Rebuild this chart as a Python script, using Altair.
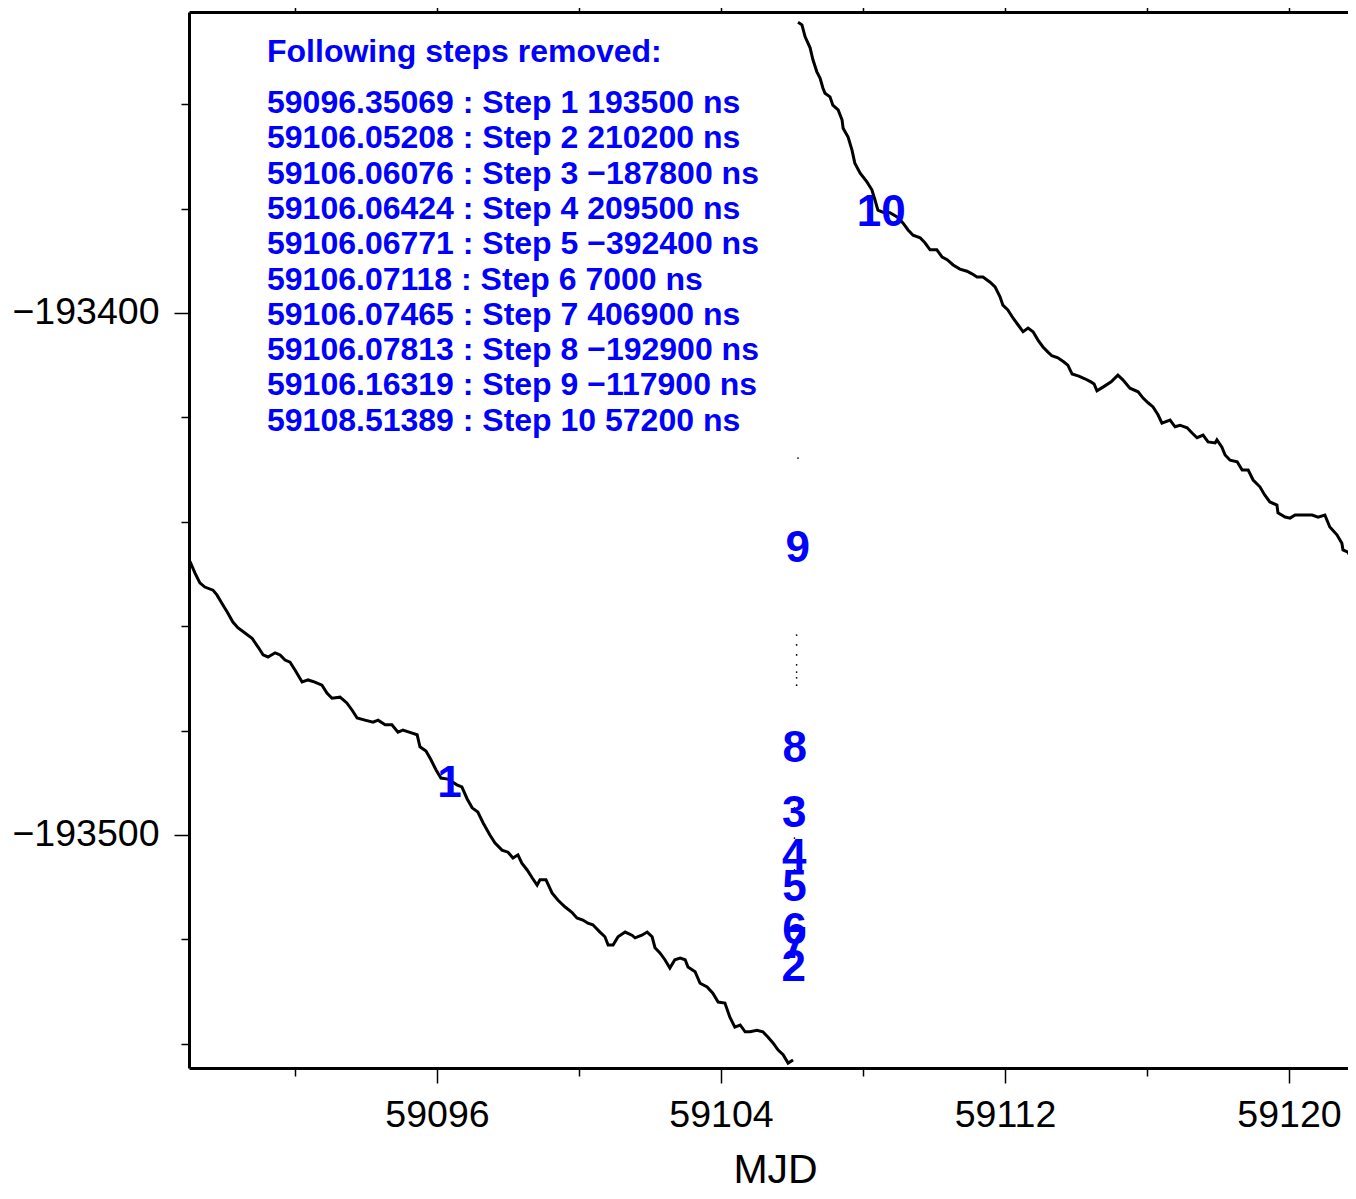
import altair as alt
import pandas as pd

# ---- data ----
seg1_mjd = [59089.04, 59089.18, 59089.32, 59089.46, 59089.69, 59089.80, 59089.94, 59090.09, 59090.25, 59090.39,
            59090.59, 59090.79, 59090.96, 59091.10, 59091.24, 59091.44, 59091.58, 59091.72, 59091.86, 59092.00,
            59092.20, 59092.37, 59092.56, 59092.76, 59092.90, 59093.04, 59093.27, 59093.46, 59093.61, 59093.75,
            59093.97, 59094.20, 59094.34, 59094.54, 59094.73, 59094.90, 59095.04, 59095.30, 59095.44, 59095.52,
            59095.69, 59095.83, 59095.97, 59096.11, 59096.31, 59096.56, 59096.70, 59096.85, 59096.99, 59097.15,
            59097.30, 59097.49, 59097.63, 59097.83, 59098.00, 59098.14, 59098.28, 59098.39, 59098.54, 59098.68,
            59098.82, 59098.90, 59099.07, 59099.24, 59099.41, 59099.61, 59099.80, 59099.94, 59100.11, 59100.25,
            59100.39, 59100.59, 59100.73, 59100.82, 59100.96, 59101.10, 59101.30, 59101.49, 59101.58, 59101.77,
            59101.92, 59102.06, 59102.14, 59102.28, 59102.42, 59102.56, 59102.70, 59102.85, 59102.99, 59103.07,
            59103.27, 59103.41, 59103.61, 59103.77, 59103.92, 59104.11, 59104.25, 59104.39, 59104.54, 59104.68,
            59104.82, 59105.01, 59105.18, 59105.32, 59105.46, 59105.61, 59105.75, 59105.89, 59106.03]
seg1_val = [-193447.6, -193449.8, -193451.7, -193452.5, -193453.1, -193454.0, -193455.6, -193457.3, -193459.2, -193460.3,
            -193461.3, -193462.3, -193464.0, -193465.5, -193465.9, -193465.1, -193465.5, -193466.5, -193466.9, -193468.4,
            -193470.7, -193470.3, -193470.7, -193471.3, -193472.8, -193473.8, -193473.6, -193474.7, -193476.1, -193477.6,
            -193478.0, -193478.4, -193478.0, -193478.9, -193478.9, -193480.3, -193479.9, -193480.5, -193480.8, -193483.1,
            -193483.9, -193485.6, -193487.5, -193489.1, -193489.3, -193490.4, -193490.8, -193493.1, -193494.8, -193495.6,
            -193497.7, -193500.0, -193501.5, -193502.9, -193503.3, -193504.4, -193503.8, -193505.4, -193506.7, -193508.2,
            -193509.6, -193508.6, -193508.6, -193511.1, -193512.5, -193513.8, -193514.8, -193515.9, -193516.3, -193516.9,
            -193517.2, -193518.6, -193519.5, -193521.1, -193521.1, -193519.5, -193518.6, -193519.2, -193519.7, -193519.2,
            -193518.6, -193519.5, -193521.6, -193522.6, -193523.9, -193525.5, -193523.9, -193523.6, -193523.9, -193525.3,
            -193526.2, -193528.4, -193529.1, -193530.3, -193532.0, -193532.2, -193534.9, -193536.8, -193536.4, -193537.7,
            -193537.7, -193537.4, -193537.7, -193538.7, -193539.8, -193541.2, -193542.1, -193543.7, -193543.1]

seg2_mjd = [59106.17, 59106.28, 59106.37, 59106.51, 59106.59, 59106.70, 59106.79, 59106.87, 59106.93, 59107.07,
            59107.15, 59107.30, 59107.41, 59107.44, 59107.58, 59107.69, 59107.77, 59107.92, 59108.11, 59108.25,
            59108.34, 59108.42, 59108.56, 59108.76, 59108.96, 59109.13, 59109.27, 59109.41, 59109.61, 59109.75,
            59109.89, 59110.08, 59110.23, 59110.37, 59110.54, 59110.73, 59110.93, 59111.07, 59111.21, 59111.38,
            59111.58, 59111.72, 59111.86, 59111.94, 59112.08, 59112.23, 59112.37, 59112.51, 59112.65, 59112.79,
            59112.93, 59113.07, 59113.21, 59113.32, 59113.49, 59113.66, 59113.77, 59113.89, 59114.08, 59114.25,
            59114.42, 59114.51, 59114.59, 59114.76, 59114.99, 59115.18, 59115.32, 59115.52, 59115.75, 59115.89,
            59116.03, 59116.17, 59116.31, 59116.42, 59116.65, 59116.79, 59116.93, 59117.13, 59117.27, 59117.41,
            59117.58, 59117.72, 59117.92, 59117.97, 59118.11, 59118.20, 59118.34, 59118.54, 59118.68, 59118.85,
            59118.99, 59119.18, 59119.32, 59119.46, 59119.66, 59119.69, 59119.89, 59120.03, 59120.17, 59120.39,
            59120.65, 59120.82, 59121.01, 59121.15, 59121.35, 59121.49, 59121.52, 59121.66, 59121.77, 59121.88]
seg2_val = [-193344.3, -193344.8, -193347.1, -193349.2, -193351.5, -193353.8, -193355.0, -193356.9, -193357.9, -193358.6,
            -193360.2, -193361.1, -193363.0, -193364.6, -193366.3, -193368.8, -193371.3, -193373.2, -193374.9, -193376.4,
            -193378.4, -193380.3, -193380.7, -193380.8, -193381.6, -193382.8, -193384.1, -193385.1, -193385.6, -193386.6,
            -193387.9, -193387.9, -193389.3, -193389.8, -193390.8, -193391.6, -193392.0, -193392.5, -193393.1, -193393.1,
            -193394.1, -193395.0, -193396.9, -193398.5, -193399.4, -193401.0, -193402.3, -193403.6, -193402.9, -193403.6,
            -193405.2, -193406.5, -193407.5, -193408.2, -193408.6, -193409.4, -193410.0, -193411.7, -193412.1, -193412.6,
            -193413.2, -193413.6, -193414.9, -193414.2, -193413.2, -193411.9, -193412.8, -193414.4, -193415.1, -193416.3,
            -193417.2, -193418.0, -193419.5, -193421.1, -193420.5, -193421.8, -193421.5, -193422.0, -193423.0, -193423.9,
            -193423.4, -193424.7, -193424.9, -193424.3, -193425.7, -193427.2, -193428.2, -193428.5, -193430.1, -193430.1,
            -193432.0, -193433.3, -193434.9, -193436.2, -193436.8, -193438.3, -193439.1, -193439.3, -193438.7, -193438.7,
            -193438.7, -193439.1, -193438.7, -193441.0, -193442.5, -193444.1, -193445.4, -193445.8, -193447.3, -193446.4]

# isolated points between the steps
dot_mjd = [59106.17, 59106.13, 59106.13, 59106.13, 59106.13, 59106.13, 59106.13, 59106.13, 59106.07, 59106.07, 59106.07]
dot_val = [-193427.8, -193461.7, -193463.6, -193465.5, -193467.4, -193468.8, -193469.9, -193471.3,
           -193494.8, -193500.6, -193506.7]

step_num = [1, 2, 3, 4, 5, 6, 7, 8, 9, 10]
step_mjd = [59096.35069, 59106.05208, 59106.06076, 59106.06424, 59106.06771,
            59106.07118, 59106.07465, 59106.07813, 59106.16319, 59108.51389]
step_ns = [193500, 210200, -187800, 209500, -392400, 7000, 406900, -192900, -117900, 57200]
step_label_val = [-193490.2, -193525.5, -193496.0, -193504.2, -193510.2,
                  -193518.4, -193521.1, -193483.5, -193445.2, -193380.8]

x_major = [59096, 59104, 59112, 59120]
x_minor = [59092, 59100, 59108, 59116]
y_major = [-193500, -193400]
y_minor = [-193540, -193520, -193480, -193460, -193440, -193420, -193380, -193360]
X_DOMAIN = [59089.014, 59121.662]
Y_DOMAIN = [-193544.64, -193342.34]

FONT = "Liberation Sans"
BLUE = "#0000ff"

df1 = pd.DataFrame({"mjd": seg1_mjd, "val": seg1_val})
df2 = pd.DataFrame({"mjd": seg2_mjd, "val": seg2_val})
dfd = pd.DataFrame({"mjd": dot_mjd, "val": dot_val})
dfs = pd.DataFrame({"mjd": step_mjd, "val": step_label_val, "label": [str(n) for n in step_num]})

lines = [f"{m:.5f} : Step {n} {str(s).replace('-', chr(0x2212))} ns"
         for m, n, s in zip(step_mjd, step_num, step_ns)]

xs = alt.Scale(domain=X_DOMAIN, nice=False, zero=False)
ys = alt.Scale(domain=Y_DOMAIN, nice=False, zero=False)

common_tick = dict(tickColor="black", tickWidth=1.5, grid=False)

ax_x_bottom_major = alt.Axis(orient="bottom", values=x_major, tickSize=15, domain=True, domainWidth=3,
                             domainColor="black", labelFontSize=37.5, labelFont=FONT, labelColor="black",
                             labelPadding=13, labelFlush=False, labelOverlap=False, format="d",
                             title="MJD", titleFont=FONT, titleFontSize=41, titleFontWeight="normal",
                             titleColor="black", titleX=586, titleAlign="center",
                             titleY=114, titleBaseline="alphabetic", **common_tick)
ax_x_bottom_minor = alt.Axis(orient="bottom", values=x_minor, tickSize=8, domain=False, labels=False,
                             title=None, **common_tick)
ax_x_top_major = alt.Axis(orient="top", values=x_major, tickSize=15, domain=True, domainWidth=3,
                          domainColor="black", labels=False, title=None, **common_tick)
ax_x_top_minor = alt.Axis(orient="top", values=x_minor, tickSize=8, domain=False, labels=False,
                          title=None, **common_tick)
ax_y_left_major = alt.Axis(orient="left", values=y_major, tickSize=15, domain=True, domainWidth=3,
                           domainColor="black", labelFontSize=37.5, labelFont=FONT, labelColor="black",
                           labelPadding=15, labelFlush=False, labelOverlap=False, format="d",
                           title=None, **common_tick)
ax_y_left_minor = alt.Axis(orient="left", values=y_minor, tickSize=8, domain=False, labels=False,
                           title=None, **common_tick)

step_labels = alt.Chart(dfs).mark_text(font=FONT, fontWeight="bold", fontSize=44, color=BLUE,
                                        align="center", baseline="middle").encode(
    x=alt.X("mjd:Q", scale=xs, axis=ax_x_top_minor),
    y=alt.Y("val:Q", scale=ys, axis=None),
    text="label:N",
)

header = alt.Chart(pd.DataFrame({"a": [0]})).mark_text(
    text="Following steps removed:", font=FONT, fontWeight="bold", fontSize=32, color=BLUE,
    align="left", baseline="alphabetic").encode(x=alt.value(78), y=alt.value(50))

block = alt.Chart(pd.DataFrame({"a": [0]})).mark_text(
    text=lines, font=FONT, fontWeight="bold", fontSize=32, color=BLUE,
    align="left", baseline="alphabetic", lineHeight=35.3).encode(x=alt.value(78), y=alt.value(101))

dots = alt.Chart(dfd).mark_point(filled=True, size=3, color="black", opacity=1).encode(
    x=alt.X("mjd:Q", scale=xs, axis=ax_x_bottom_minor),
    y=alt.Y("val:Q", scale=ys, axis=None),
)

line1 = alt.Chart(df1).mark_line(color="black", strokeWidth=3, clip=True).encode(
    x=alt.X("mjd:Q", scale=xs, axis=ax_x_bottom_major),
    y=alt.Y("val:Q", scale=ys, axis=ax_y_left_major),
)
line2 = alt.Chart(df2).mark_line(color="black", strokeWidth=3, clip=True).encode(
    x=alt.X("mjd:Q", scale=xs, axis=ax_x_top_major),
    y=alt.Y("val:Q", scale=ys, axis=ax_y_left_minor),
)

chart = alt.layer(line1, line2, dots, step_labels, header, block).resolve_scale(
    x="shared", y="shared").resolve_axis(x="independent", y="independent").properties(
    width=1159, height=1056, autosize="none",
    padding={"left": 181, "top": 4, "right": 0, "bottom": 123},
    background="white",
).configure_view(stroke=None)

chart.save("out.html", embed_options={"renderer": "svg", "actions": False})
